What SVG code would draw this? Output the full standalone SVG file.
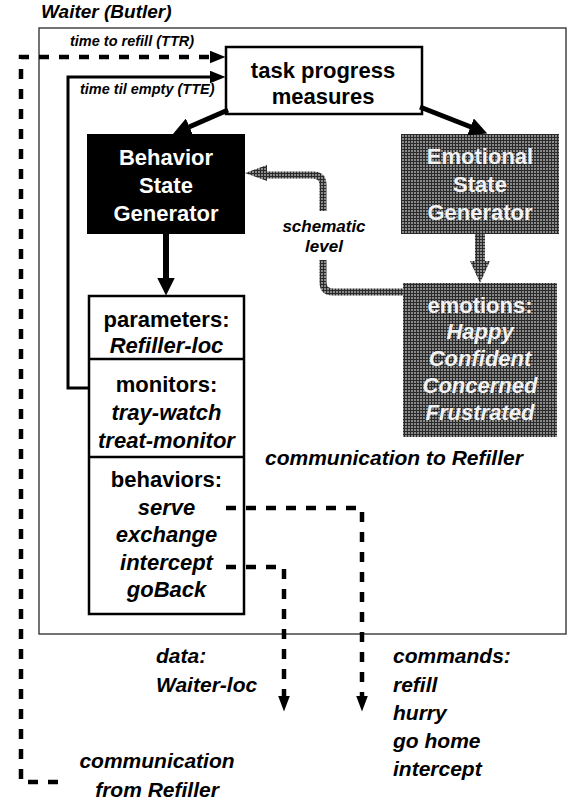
<svg xmlns="http://www.w3.org/2000/svg" width="568" height="804" viewBox="0 0 568 804">
<defs>
<pattern id="ht" width="3" height="3" patternUnits="userSpaceOnUse">
<rect width="3" height="3" fill="#2a2a2a"/>
<rect width="2" height="2" fill="#8a8a8a"/>
</pattern>
<marker id="ahT" markerUnits="userSpaceOnUse" markerWidth="16" markerHeight="13" refX="0.5" refY="6.5" orient="auto"><path d="M0,0 L16,6.5 L0,13 z" fill="#000"/></marker>
<marker id="ahB" markerUnits="userSpaceOnUse" markerWidth="18" markerHeight="18" refX="0.5" refY="9" orient="auto"><path d="M0,0 L18,9 L0,18 z" fill="#000"/></marker>
<marker id="ahD" markerUnits="userSpaceOnUse" markerWidth="16" markerHeight="12" refX="0.5" refY="6" orient="auto"><path d="M0,0 L16,6 L0,12 z" fill="#000"/></marker>
<style>
text{font-family:"Liberation Sans",Arial,Helvetica,sans-serif;font-weight:bold;fill:#000}
.c{text-anchor:middle}
.bx{font-size:22px}
.it{font-style:italic}
.lbl{font-size:21px;font-style:italic}
.sm{font-size:14.5px;font-style:italic}
.wh{fill:#fff}
.gw{fill:#f2f2f2}
.box{fill:#fff;stroke:#000;stroke-width:2.5}
.dash{fill:none;stroke:#000;stroke-width:4.5;stroke-dasharray:10 10}
.solid{fill:none;stroke:#000}
.tex{fill:none;stroke:url(#ht);stroke-width:7}
</style>
</defs>
<rect width="568" height="804" fill="#fff"/>

<g id="title"><text x="41" y="18" style="font-size:19px;font-style:italic">Waiter (Butler)</text></g>
<g id="frame"><rect x="39" y="28" width="527" height="606" fill="none" stroke="#444" stroke-width="1.5"/></g>

<g id="task-progress">
<rect class="box" x="226" y="47" width="196" height="67"/>
<text class="bx c" x="323" y="78">task progress</text>
<text class="bx c" x="323" y="104">measures</text>
</g>

<g id="behavior-state-generator">
<rect x="87" y="134" width="158" height="100" fill="#000"/>
<text class="bx c wh" x="166" y="165">Behavior</text>
<text class="bx c wh" x="166" y="193">State</text>
<text class="bx c wh" x="166" y="221">Generator</text>
</g>

<g id="emotional-state-generator">
<rect x="401" y="134" width="158" height="100" fill="url(#ht)"/>
<text class="bx c gw" x="480" y="164">Emotional</text>
<text class="bx c gw" x="480" y="192">State</text>
<text class="bx c gw" x="480" y="220">Generator</text>
</g>

<g id="emotions">
<rect x="403" y="283" width="154" height="154" fill="url(#ht)"/>
<text class="bx c gw" x="480" y="313">emotions:</text>
<text class="bx c gw it" x="480" y="339">Happy</text>
<text class="bx c gw it" x="480" y="366">Confident</text>
<text class="bx c gw it" x="480" y="393">Concerned</text>
<text class="bx c gw it" x="480" y="420">Frustrated</text>
</g>

<g id="module">
<rect class="box" x="89" y="296" width="155" height="318"/>
<line x1="89" y1="359" x2="244" y2="359" stroke="#000" stroke-width="2.5"/>
<line x1="89" y1="457" x2="244" y2="457" stroke="#000" stroke-width="2.5"/>
<text class="bx c" x="166.5" y="327">parameters:</text>
<text class="bx c it" x="166.5" y="353">Refiller-loc</text>
<text class="bx c" x="166.5" y="392">monitors:</text>
<text class="bx c it" x="166.5" y="420">tray-watch</text>
<text class="bx c it" x="166.5" y="448">treat-monitor</text>
<text class="bx c" x="166.5" y="487">behaviors:</text>
<text class="bx c it" x="166.5" y="515">serve</text>
<text class="bx c it" x="166.5" y="542">exchange</text>
<text class="bx c it" x="166.5" y="570">intercept</text>
<text class="bx c it" x="166.5" y="597">goBack</text>
</g>

<g id="labels">
<text class="sm" x="70" y="46">time to refill (TTR)</text>
<text class="sm" x="80" y="94">time til empty (TTE)</text>
<text class="c" x="324" y="232" style="font-size:17px;font-style:italic">schematic</text>
<text class="c" x="324" y="252" style="font-size:17px;font-style:italic">level</text>
<text class="lbl" x="265" y="465">communication to Refiller</text>
<text class="lbl" x="156" y="663">data:</text>
<text class="lbl" x="156" y="692">Waiter-loc</text>
<text class="lbl" x="393" y="663">commands:</text>
<text class="lbl" x="393" y="692">refill</text>
<text class="lbl" x="393" y="720">hurry</text>
<text class="lbl" x="393" y="748">go home</text>
<text class="lbl" x="393" y="776">intercept</text>
<text class="lbl c" x="157" y="768">communication</text>
<text class="lbl c" x="157" y="797">from Refiller</text>
</g>

<g id="connectors">
<path class="dash" d="M58,782 H21 V57 H210" marker-end="url(#ahT)"/>
<path class="solid" stroke-width="3" d="M89,388 H68 V77 H210" marker-end="url(#ahT)"/>
<line class="solid" stroke-width="5" x1="228" y1="110" x2="189" y2="127" marker-end="url(#ahB)"/>
<line class="solid" stroke-width="5" x1="420" y1="107" x2="471" y2="127" marker-end="url(#ahB)"/>
<line class="solid" stroke-width="6" x1="166" y1="234" x2="166" y2="278" marker-end="url(#ahB)"/>
<path d="M475,234 V261 H470 L480,283 L490,261 H485 V234 Z" fill="url(#ht)"/>
<path class="tex" d="M403,292 H333 Q323,292 323,282 V260 M323,211 V185 Q323,175 313,175 H266"/>
<path d="M245,173 L267,165 L267,181 Z" fill="url(#ht)"/>
<path class="dash" d="M226,508 H362 V696" marker-end="url(#ahD)"/>
<path class="dash" d="M226,567 H284 V696" marker-end="url(#ahD)"/>
</g>
</svg>
